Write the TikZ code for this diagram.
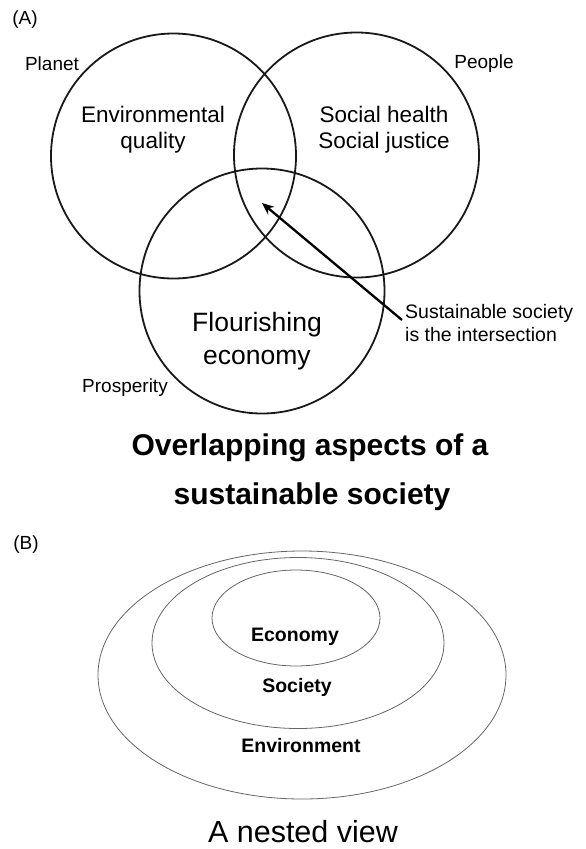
\documentclass[tikz,border=0pt]{standalone}
\usepackage{fontspec}
\setmainfont{Liberation Sans}
\usetikzlibrary{arrows.meta}
\begin{document}
\begin{tikzpicture}[x=1pt,y=-1pt,
  venn/.style={line width=1.8pt,draw=black!90},
  nest/.style={line width=0.8pt,draw=black!60},
  lbl/.style={inner sep=0pt,font=\fontsize{19}{23}\selectfont},
  big/.style={inner sep=0pt,align=center,font=\fontsize{22.5}{26}\selectfont},
  title/.style={inner sep=0pt,font=\fontsize{30}{36}\selectfont\bfseries},
  nlbl/.style={inner sep=0pt,font=\fontsize{19.5}{23}\selectfont\bfseries}]
\useasboundingbox (0,0) rectangle (586,849);
% panel A
\node[lbl] (A) at (25,20) {(A)};
\draw[venn] (173.5,156) circle (122.5);
\draw[venn] (356.5,155) circle (122.5);
\draw[venn] (262,291) circle (122.5);
\node[lbl] (planet) at (52,64) {Planet};
\node[lbl] (people) at (484,64) {People};
\node[lbl] (prosp) at (125,388) {Prosperity};
\node[big] (env) at (153,130) {Environmental\\quality};
\node[big] (soc) at (384,130) {Social health\\Social justice};
\node[inner sep=0pt,align=center,font=\fontsize{26.5}{33}\selectfont] (econ) at (257,341) {Flourishing\\economy};
\node[lbl,anchor=west,align=left,font=\fontsize{19.5}{23}\selectfont] (sust) at (405,323) {Sustainable society\\is the intersection};
\coordinate (tail) at (402,320);
\coordinate (head) at (262,203);
\draw[line width=2.3pt,-{Stealth[length=12pt,width=10pt]}] (tail) -- (head);
\node[title] (t1) at (310,448) {Overlapping aspects of a};
\node[title] (t2) at (312,497) {sustainable society};
% panel B
\node[lbl] (B) at (26,545) {(B)};
\draw[nest] (302,675) ellipse (204 and 124);
\draw[nest] (298,643) ellipse (146 and 85.5);
\draw[nest] (296,618) ellipse (84 and 48);
\node[nlbl] (economy) at (295,637) {Economy};
\node[nlbl] (society) at (297,687) {Society};
\node[nlbl] (environ) at (301,746) {Environment};
\node[inner sep=0pt,font=\fontsize{30.5}{36}\selectfont] (nested) at (303,832) {A nested view};
\end{tikzpicture}
\end{document}
